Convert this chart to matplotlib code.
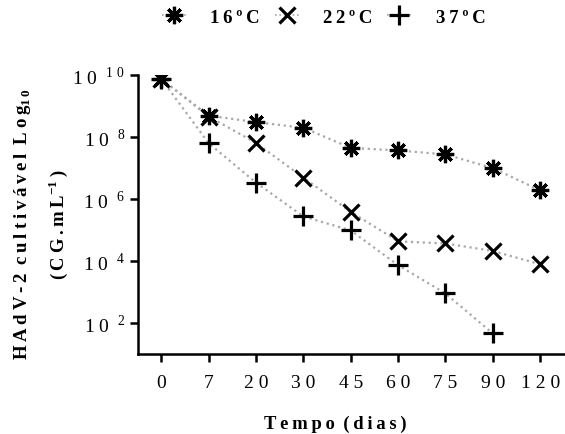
import matplotlib
matplotlib.use('Agg')
import matplotlib.pyplot as plt
from matplotlib.lines import Line2D
import numpy as np

plt.rcParams['font.family'] = ['Liberation Serif', 'DejaVu Serif']
plt.rcParams['mathtext.fontset'] = 'custom'
plt.rcParams['mathtext.rm'] = 'Liberation Serif'
plt.rcParams['mathtext.bf'] = 'Liberation Serif:bold'

days = ['0', '7', '20', '30', '45', '60', '75', '90', '120']
labels = ['16\u00baC', '22\u00baC', '37\u00baC']

# log10 values
log16 = [9.86, 8.68, 8.47, 8.29, 7.64, 7.56, 7.43, 6.99, 6.27]
log22 = [9.86, 8.65, 7.80, 6.68, 5.58, 4.63, 4.56, 4.32, 3.89]
log37 = [9.86, 7.79, 6.52, 5.43, 4.98, 3.86, 2.95, 1.66]

markers = [(8, 2, 0), 'x', '+']
sizes = [12.5, 11, 15]
T = '\u2009'
W = ' \u2009'


def spaced(s):
    return T.join(list(s))


fig = plt.figure(figsize=(5.65, 4.35), dpi=100)
ax = fig.add_axes([0.2437, 0.184, 0.7543, 0.642])

for vals, m, ms in zip([log16, log22, log37], markers, sizes):
    x = np.arange(len(vals))
    y = 10.0 ** np.array(vals)
    ax.plot(x, y, linestyle=':', color='#a8a8a8', linewidth=1.6, zorder=1)
    ax.plot(x, y, linestyle='none', marker=m, markersize=ms, markeredgewidth=2.3,
            color='black', zorder=2)

ax.set_yscale('log')
ax.set_ylim(10, 1e10)
ax.set_xlim(-0.5, 8.5)
ax.set_xticks(np.arange(len(days)))
ax.set_xticklabels([' '.join(d) for d in days], fontsize=14)
yt = [1e2, 1e4, 1e6, 1e8, 1e10]
ax.set_yticks(yt)
ax.set_yticklabels(['1 0' + W + '$^{\\mathregular{' + '\\ '.join(str(int(np.log10(v)))) + '}}$'
                    for v in yt], fontsize=14)
ax.minorticks_off()

for s in ['top', 'right']:
    ax.spines[s].set_visible(False)
for s in ['left', 'bottom']:
    ax.spines[s].set_linewidth(1.8)
ax.tick_params(axis='x', direction='out', length=5.5, width=1.8, pad=9)
ax.tick_params(axis='y', direction='out', length=5.5, width=1.8, pad=3.5)

fig.text(0.593, 0.025, spaced('Tempo') + W + spaced('(dias)'), ha='center', va='center',
         fontsize=13.4, fontweight='bold')

fig.text(0.039, 0.485, spaced('HAdV-2') + W + spaced('cultivável') + W + spaced('Log') +
         r'$_{\mathbf{1\,0}}$', rotation=90, ha='center', va='center', fontsize=13.6,
         fontweight='bold')
fig.text(0.103, 0.485, spaced('(CG.mL') + r'$^{\mathbf{-1}}$' + T + ')', rotation=90,
         ha='center', va='center', fontsize=13.4, fontweight='bold')

handles = [Line2D([], [], linestyle=':', color='#a8a8a8', linewidth=1.2, marker=m,
                  markersize=ms, markeredgewidth=2.3, markeredgecolor='black',
                  markerfacecolor='black')
           for m, ms in zip(markers, sizes)]
fig.legend(handles, [spaced(l) for l in labels], loc='center', bbox_to_anchor=(0.5726, 0.9586),
           ncol=3, frameon=False, handlelength=1.28, columnspacing=0.8, handletextpad=1.3,
           borderpad=0, prop={'weight': 'bold', 'size': 13.5})

fig.savefig('out.png', dpi=100)
